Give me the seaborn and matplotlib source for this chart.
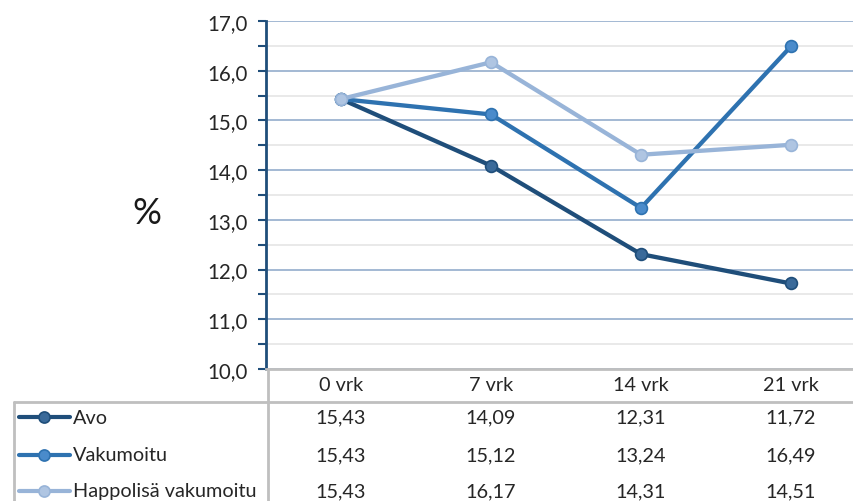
import matplotlib
matplotlib.use("Agg")
import matplotlib.pyplot as plt
from matplotlib.lines import Line2D
from matplotlib import transforms
from matplotlib.ticker import MultipleLocator
import seaborn as sns
import pandas as pd

categories = ["0 vrk", "7 vrk", "14 vrk", "21 vrk"]
series_names = ["Avo", "Vakumoitu", "Happolisä vakumoitu"]
avo = [15.43, 14.09, 12.31, 11.72]
vakumoitu = [15.43, 15.12, 13.24, 16.49]
happolisa = [15.43, 16.17, 14.31, 14.51]
y_ticks = [10.0, 11.0, 12.0, 13.0, 14.0, 15.0, 16.0, 17.0]

line_colors = ["#1F4E7A", "#2E72B0", "#98B4D8"]
fill_colors = ["#3A6A9A", "#4A8BCB", "#AFC5E2"]

values = [avo, vakumoitu, happolisa]
df = pd.DataFrame({
    "Ajankohta": [c for _ in series_names for c in categories],
    "Arvo": [v for vals in values for v in vals],
    "Sarja": [s for s in series_names for _ in categories],
})

sns.set_theme(style="white")
plt.rcParams["font.family"] = ["Lato", "DejaVu Sans"]

TXT = "#262626"
FS = 14.3

W, H = 854, 502
fig = plt.figure(figsize=(W / 100, H / 100), dpi=100)
fig.patch.set_facecolor("white")

# plot area in pixel terms (right edge runs past the figure edge)
left_px, right_px, top_px, bottom_px = 266, 866, 22, 370
ax = fig.add_axes([left_px / W, 1 - bottom_px / H,
                   (right_px - left_px) / W, (bottom_px - top_px) / H])

sns.lineplot(data=df, x="Ajankohta", y="Arvo", hue="Sarja",
             hue_order=series_names, palette=line_colors, ax=ax,
             linewidth=3.1, legend=False, sort=False)

for line, fc in zip(ax.get_lines(), fill_colors):
    line.set_marker("o")
    line.set_markersize(8.5)
    line.set_markerfacecolor(fc)
    line.set_markeredgecolor(line.get_color())
    line.set_markeredgewidth(1.2)
    line.set_solid_capstyle("round")

ax.set_xlim(-0.5, len(categories) - 0.5)
ax.set_ylim(y_ticks[0], y_ticks[-1])
ax.set_xlabel("")
ax.set_ylabel("")
ax.set_xticks(range(len(categories)))
ax.set_xticklabels([])
ax.tick_params(axis="x", length=0)

ax.yaxis.set_major_locator(MultipleLocator(1.0))
ax.yaxis.set_minor_locator(MultipleLocator(0.5))
ax.set_yticks(y_ticks)
ax.set_yticklabels([f"{t:.1f}".replace(".", ",") for t in y_ticks],
                   fontsize=FS + 0.5, color=TXT)
ax.tick_params(axis="y", which="both", direction="out", length=6,
               width=1.5, color="#1F4E7A", left=True, pad=7)

ax.grid(False)
ax.yaxis.grid(True, which="major", color="#8AA5C8", linewidth=1.1)
ax.yaxis.grid(True, which="minor", color="#E3E3E3", linewidth=1.1)
ax.set_axisbelow(True)

for side in ["top", "right"]:
    ax.spines[side].set_visible(False)
ax.spines["left"].set_color("#1F4E7A")
ax.spines["left"].set_linewidth(2.0)
ax.spines["bottom"].set_color("#BFBFBF")
ax.spines["bottom"].set_linewidth(2.0)

# axis title
fig.text(147 / W, 1 - 214 / H, "%", fontsize=26, color="#1A1A1A",
         ha="center", va="center")

# data table beneath the plot
def px_line(x0, y0, x1, y1):
    fig.add_artist(Line2D([x0 / W, x1 / W], [1 - y0 / H, 1 - y1 / H],
                          transform=fig.transFigure, color="#BFBFBF",
                          linewidth=2.0))

px_line(268, 370, 268, H)
px_line(14, 403, W, 403)
px_line(14, 403, 14, H)

blend = transforms.blended_transform_factory(ax.transData, fig.transFigure)
header_y = 386
row_ys = [418, 456, 492]
for i, cat in enumerate(categories):
    fig.text(i, 1 - header_y / H, cat, transform=blend, ha="center",
             va="center", fontsize=FS, color=TXT)
for vals, ry in zip(values, row_ys):
    for i, v in enumerate(vals):
        fig.text(i, 1 - ry / H, f"{v:.2f}".replace(".", ","),
                 transform=blend, ha="center", va="center",
                 fontsize=FS, color=TXT)

for name, lc, fc, ry in zip(series_names, line_colors, fill_colors, row_ys):
    fig.add_artist(Line2D([19 / W, 70 / W], [1 - ry / H, 1 - ry / H],
                          transform=fig.transFigure, color=lc, linewidth=3.0,
                          solid_capstyle="round"))
    fig.add_artist(Line2D([44.5 / W], [1 - ry / H], transform=fig.transFigure,
                          marker="o", markersize=8, markerfacecolor=fc,
                          markeredgecolor=lc, markeredgewidth=1.2))
    fig.text(73 / W, 1 - ry / H, name, ha="left", va="center",
             fontsize=FS, color=TXT)

fig.savefig("out.png", dpi=100, facecolor="white")
